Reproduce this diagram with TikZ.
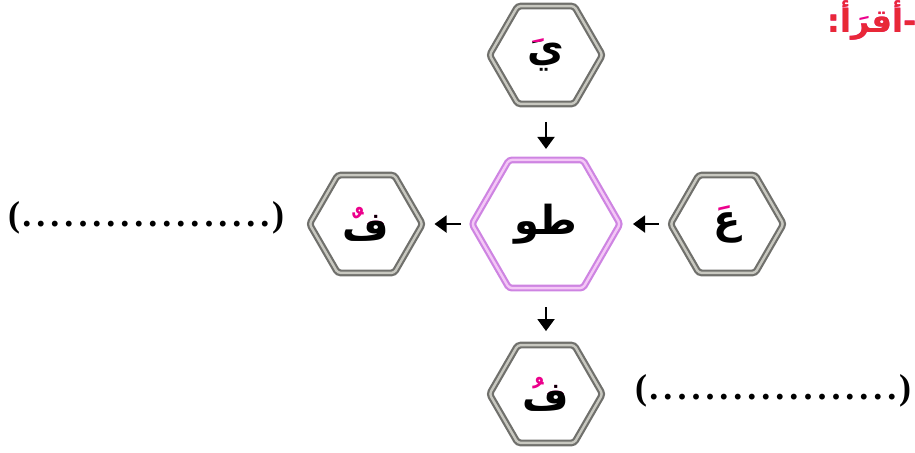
\documentclass[tikz,border=0pt]{standalone}
\usepackage{fontspec}
\usepackage{tikz}
\usetikzlibrary{arrows.meta, positioning, shapes.geometric}
\TeXXeTstate=1
\newfontfamily\arabicfont[Script=Arabic]{DejaVu Sans}
\newfontfamily\blankfont{Liberation Serif}
\newcommand{\harffont}{\arabicfont\bfseries\fontsize{20}{24}\selectfont}
\definecolor{harakapink}{RGB}{236,0,140}
\definecolor{titlered}{RGB}{232,40,55}
\definecolor{rimgray}{RGB}{112,112,108}
\definecolor{rimlight}{RGB}{200,200,192}
\definecolor{rimviolet}{RGB}{206,132,226}
\definecolor{rimpink}{RGB}{244,200,246}
% a row of spaced dots
\newcommand{\dotrow}{\cleaders\hbox to 7pt{\hss.\hss}\hskip 126pt}
% sizes of a letter: #1 name, #2 letter with haraka, #3 bare letter
\newcommand{\measureharf}[3]{%
  \setbox0\hbox{\harffont #3}\expandafter\xdef\csname hL#1\endcsname{\the\ht0}%
  \setbox0\hbox{\harffont #2}\expandafter\xdef\csname hF#1\endcsname{\the\ht0}%
  \expandafter\xdef\csname dF#1\endcsname{\the\dp0}}
% letter in black, its haraka in pink
% #1 hexagon, #2 letter with haraka, #3 bare letter, #4 name, #5 drop of the cut line
\newcommand{\harakaharf}[5]{%
  \edef\hL{\csname hL#4\endcsname}\edef\hF{\csname hF#4\endcsname}\edef\dF{\csname dF#4\endcsname}%
  \coordinate (#4-b) at ([yshift={(\dF-\hF)/2}]#1.center);
  \begin{scope}
    \clip ([xshift=-25pt, yshift=-20pt]#4-b) rectangle ([xshift=25pt, yshift=\hL+0.6pt-#5]#4-b);
    \node[harf, anchor=base] (#4) at (#4-b) {#2};
  \end{scope}
  \begin{scope}
    \clip ([xshift=-25pt, yshift=\hL+0.6pt-#5]#4-b) rectangle ([xshift=25pt, yshift=30pt]#4-b);
    \node[harf, anchor=base, text=harakapink] (#4-h) at (#4-b) {#2};
    \node[harf, anchor=base] (#4-k) at (#4-b) {#3};
  \end{scope}}

\begin{document}
\measureharf{ya-l}{يَ}{ي}%
\measureharf{ain-l}{عَ}{ع}%
\measureharf{fan-l}{فٌ}{ف}%
\measureharf{fu-l}{فُ}{ف}%
\begin{tikzpicture}[x=0.5pt, y=-0.5pt, >=Stealth,
    % hexagon frames
    hexbox/.style={regular polygon, regular polygon sides=6, minimum size=56.5pt, inner sep=0pt, outer sep=0pt,
      draw=rimgray, double=rimlight, line width=1.1pt, double distance=1.2pt, fill=white, rounded corners=1.5pt},
    midhex/.style={hexbox, minimum size=74pt, draw=rimviolet, double=rimpink},
    % letters
    harf/.style={font=\harffont, inner sep=0pt},
    arr/.style={-{Triangle[width=8.5pt, length=6pt]}, line width=1pt},
    blank/.style={font=\blankfont\bfseries\fontsize{18}{21}\selectfont, inner sep=0pt},
    titletxt/.style={font=\arabicfont\bfseries\fontsize{16}{19}\selectfont, inner sep=0pt}]

    \useasboundingbox (0,0) rectangle (915,452);

    % hexagons
    \node[hexbox] (ya)  at (546,55)  {};
    \node[midhex] (tw)  at (546,224) {};
    \node[hexbox] (ain) at (727,224) {};
    \node[hexbox] (fan) at (366,224) {};
    \node[hexbox] (fu)  at (546,394) {};

    % letters
    \harakaharf{ya}{يَ}{ي}{ya-l}{0pt}
    \node[harf] (tw-l) at (tw) {\beginR طو\endR};
    \harakaharf{ain}{عَ}{ع}{ain-l}{0pt}
    \harakaharf{fan}{فٌ}{ف}{fan-l}{5pt}
    \harakaharf{fu}{فُ}{ف}{fu-l}{5pt}

    % arrows
    \draw[arr, shorten <=9pt, shorten >=5.5pt] (ya) -- (tw);
    \draw[arr, shorten <=6pt, shorten >=6.5pt] (ain) -- (tw);
    \draw[arr, shorten <=5.5pt, shorten >=6pt] (tw) -- (fan);
    \draw[arr, shorten <=9.5pt, shorten >=7pt] (tw) -- (fu);

    % blanks
    \node[blank] (blankL) at (146,218) {(\dotrow)};
    \node[blank] (blankB) at (773,391) {(\dotrow)};

    % title
    \node[titletxt, text=harakapink, anchor=base east] (title-h) at (917,32)
      {\beginR\hbox{-}\hbox{أقرَأ}\hbox{:}\endR};
    \node[titletxt, text=titlered, anchor=base east] (title) at (title-h.base east)
      {\beginR\hbox{-}\hbox{أقرأ}\hbox{:}\endR};
\end{tikzpicture}
\end{document}
